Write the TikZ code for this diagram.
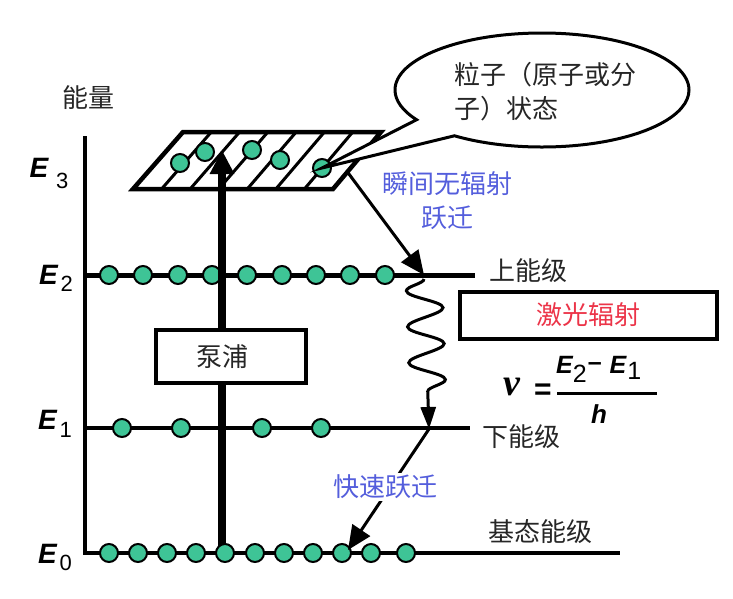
\documentclass[tikz,border=0pt]{standalone}
\usepackage{fontspec}
\setmainfont{Liberation Sans}
\newfontfamily\cjk{Noto Sans CJK SC}
\newfontfamily\serifgreek{Liberation Serif}
\usetikzlibrary{arrows.meta, positioning, calc, shapes.callouts, decorations.pathmorphing}
\definecolor{dotgreen}{RGB}{62,196,150}
\definecolor{labelblue}{RGB}{84,94,220}
\definecolor{laserred}{RGB}{236,52,72}

% level label: E with lowered index
\newcommand{\elab}[3]{{\fontsize{28}{28}\selectfont\bfseries\itshape E}\hspace{#3}\raisebox{-#2}{\fontsize{22}{22}\selectfont #1}}

\begin{document}
\begin{tikzpicture}[x=1pt, y=-1pt,
  particle/.style={circle, draw, line width=2pt, fill=dotgreen, minimum size=18pt, inner sep=0pt},
  hatch/.style={line width=3pt},
  cjklabel/.style={font=\cjk\fontsize{26}{34}\selectfont, text=black!85},
  bluelabel/.style={cjklabel, text=labelblue},
  jump/.style={-{Triangle[length=24pt, width=21pt]}, line width=3pt},
  framebox/.style={draw, line width=4pt, fill=white, inner sep=0pt}
]
\useasboundingbox (0,0) rectangle (733,598);

% axis and levels
\coordinate (axtop) at (85,136);
\coordinate (corner) at (85,553);
\coordinate (e0end) at (620,553);
\coordinate (e2a) at (85,275);
\coordinate (e2b) at (475,275);
\coordinate (e1a) at (85,428);
\coordinate (e1b) at (470,428);
\draw[line width=4pt] (axtop) -- (corner) -- (e0end);
\draw[line width=5pt] (e2a) -- (e2b);
\draw[line width=4.5pt] (e1a) -- (e1b);

\node[cjklabel] (energy) at (88,98) {能量};
\node (E3) at (49,173) {\elab{3}{11pt}{8pt}};
\node (E2) at (56,278) {\elab{2}{7pt}{3pt}};
\node (E1) at (55,424) {\elab{1}{8pt}{3pt}};
\node (E0) at (55,557) {\elab{0}{7pt}{3pt}};

% pumping band E3
\coordinate (pa) at (133,189);
\coordinate (pb) at (333,189);
\coordinate (pc) at (381,132);
\coordinate (pd) at (183,132);
\foreach \k in {1,...,6}
  \draw[hatch] ($(pa)!\k/7!(pb)$) -- ($(pd)!\k/7!(pc)$);
\draw[line width=4.5pt] (pa) -- (pb) -- (pc) -- (pd) -- cycle;
\node[particle] (b1) at (180,163) {};
\node[particle] (b2) at (205,152) {};
\node[particle] (b3) at (252,150) {};
\node[particle] (b4) at (280,160) {};
\node[particle] (b5) at (322,168) {};

% particles on E2 and E1
\foreach \x [count=\i] in {109,143,178,212,247,282,316,350,385}
  \node[particle] (u\i) at (\x,275) {};
\foreach \x [count=\i] in {122,181,262,321}
  \node[particle] (m\i) at (\x,428) {};

% pumping
\coordinate (pumpfoot) at (222,553);
\coordinate (pumptip) at (222,150);
\draw[line width=7.5pt, -{Triangle[length=24pt, width=23pt]}] (pumpfoot) -- (pumptip);
\node[framebox, minimum width=150pt, minimum height=53pt] (pumpbox) at (231,356) {};
\node[cjklabel] (pump) at (222,357) {泵浦};

% particles on E0
\foreach \x [count=\i] in {109,138,167,196,225,255,284,313,342,371,406}
  \node[particle] (g\i) at (\x,553) {};

% speech bubble
\node[ellipse callout, draw, line width=3pt, fill=white, minimum width=294pt, minimum height=114pt,
  callout absolute pointer={(b5.center)}, callout pointer arc=22] (bubble) at (542,90) {};
\node[cjklabel, anchor=west, align=left, inner sep=0pt] (bubbletext) at (454,92)
  {粒子（原子或分\\子）状态};

% transitions
\coordinate (nrstart) at ($(pb)!0.3!(pc)$);
\coordinate (e2hit) at (424,275);
\coordinate (wavetop) at (424,279);
\coordinate (e1hit) at (429,429);
\coordinate (fasttip) at (348,550);
\draw[jump] (nrstart) -- (e2hit);
\draw[line width=3pt, -{Triangle[length=22pt, width=15pt]},
  decorate, decoration={snake, amplitude=-18pt, segment length=36pt, post length=22pt}]
  (wavetop) -- (e1hit);
\draw[jump] (e1hit) -- (fasttip);

\node[bluelabel, align=center] (nrlabel) at (447,201) {瞬间无辐射\\跃迁};
\node[bluelabel, fill=white, inner sep=2pt] (fastlabel) at (385,487) {快速跃迁};

\node[cjklabel] (upper) at (528,271) {上能级};
\node[cjklabel] (lower) at (521,437) {下能级};
\node[cjklabel] (ground) at (540,532) {基态能级};

% laser emission and frequency
\node[framebox, minimum width=257pt, minimum height=47pt, cjklabel, text=laserred] (laser) at (588,315) {激光辐射};
\node[anchor=base, inner sep=0pt] (freq) at (512,395) {\serifgreek\fontsize{38}{38}\selectfont\bfseries\itshape ν};
\node[anchor=base, inner sep=0pt] (eq) at (543,399) {\fontsize{30}{30}\selectfont\bfseries =};
\coordinate (barl) at (557,393);
\coordinate (barr) at (657,393);
\draw[line width=3pt] (barl) -- (barr);
\node[anchor=base west, inner sep=0pt] (numer) at (556,373) {\fontsize{25}{25}\selectfont\bfseries
  {\itshape E}\raisebox{-9pt}{\mdseries 2}\hspace{1pt}\raisebox{3pt}{–}\hspace{8pt}{\itshape E}\hspace{1pt}\raisebox{-6pt}{\mdseries 1}};
\node[anchor=base, inner sep=0pt] (denom) at (599,423) {\fontsize{26}{26}\selectfont\bfseries\itshape h};

\end{tikzpicture}
\end{document}
